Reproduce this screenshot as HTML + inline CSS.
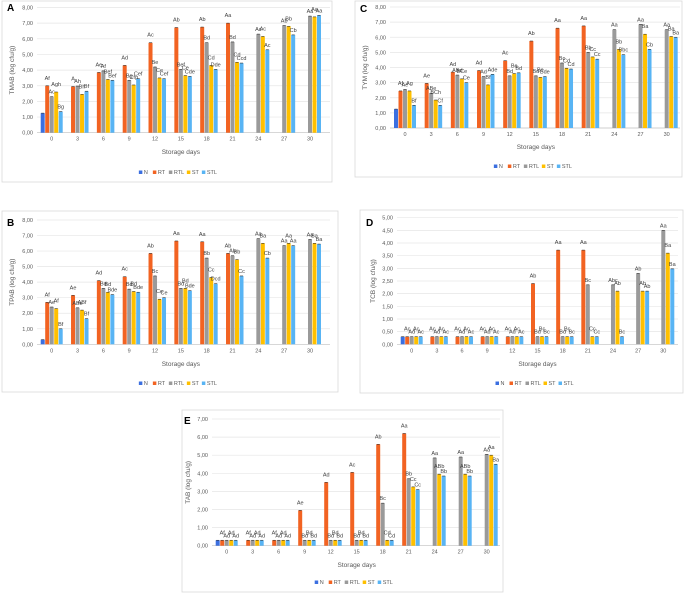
<!DOCTYPE html>
<html><head><meta charset="utf-8">
<style>
body{margin:0;background:#fff;width:685px;height:593px;overflow:hidden;font-family:"Liberation Sans",sans-serif}
svg{position:absolute;left:0;top:0}
</style></head>
<body>
<svg id="fig" width="685" height="593" viewBox="0 0 685 593"></svg>
<script>
const categories=[0,3,6,9,12,15,18,21,24,27,30];
const seriesNames=["N","RT","RTL","ST","STL"];
const colors=["#3b6fe0","#f26322","#9a9a9a","#ffc000","#58b4f4"];
// Panel A TMAB
const aN=[1.25,null,null,null,null,null,null,null,null,null,null];
const aRT=[3.0,2.95,3.85,4.3,5.75,6.72,6.75,7.0,null,null,null];
const aRTL=[2.3,2.98,3.95,3.35,4.2,4.05,5.75,5.8,6.3,6.85,7.45];
const aST=[2.6,2.45,3.4,3.05,3.5,3.65,4.3,4.5,6.15,6.8,7.4];
const aSTL=[1.35,2.65,3.35,3.45,3.45,3.6,4.05,4.45,5.3,6.25,7.5];
const aLab=[["","Af","Ac","Agh","Bg"],["","A","Ah","Bh","Bf"],["","Ae","Af","Bef","Bef"],["","Ad","Bg","Cfg","Cef"],["","Ac","Be","Ce","Cef"],["","Ab","Bef","Ce","Cde"],["","Ab","Bd","Cd","Dde"],["","Aa","Bd","Cd","Ccd"],["","","Ac","Ac","Ac"],["","","Ab","Bb","Cb"],["","","Aa","Aa","Aa"]];
// Panel C TYM
const cN=[1.25,null,null,null,null,null,null,null,null,null,null];
const cRT=[2.45,2.95,3.7,3.8,4.45,5.75,6.6,6.75,null,null,null];
const cRTL=[2.55,2.3,3.5,3.4,3.45,3.45,4.3,5.0,6.5,6.85,6.5];
const cST=[2.45,1.85,3.25,2.85,3.6,3.35,3.95,4.7,5.2,6.2,6.05];
const cSTL=[1.5,1.5,3.0,3.55,3.65,3.4,3.9,4.55,4.85,5.2,6.0];
const cLab=[["","Af","Ae","Ag","Bf"],["","Ae","ABe","BCh","Cf"],["","Ad","ABd","BCe","Ce"],["","Ad","Ad","Bf","Ade"],["","Ac","Bd","Be","Bd"],["","Ab","Bd","Be","Bde"],["","Aa","Bc","Cd","Cd"],["","Aa","Bb","Cc","Cc"],["","","Aa","Bb","Bbc"],["","","Aa","Ba","Cb"],["","","Aa","Ba","Ba"]];
// Panel B TPAB
const bN=[0.3,null,null,null,null,null,null,null,null,null,null];
const bRT=[2.7,3.15,4.1,4.35,5.85,6.65,6.6,5.85,null,null,null];
const bRTL=[2.4,2.35,3.6,3.55,4.4,3.6,5.55,5.7,6.8,6.35,6.75];
const bST=[2.3,2.2,3.35,3.4,2.9,3.6,4.3,5.45,6.5,6.5,6.5];
const bSTL=[1.0,1.65,3.2,3.35,3.0,3.45,3.9,4.4,5.55,6.35,6.45];
const bLab=[["","Af","Ae","Af","Bf"],["","Ae","ABe","ABf","Bf"],["","Ad","Bd","Bd","Bde"],["","Ac","Bd","Bd","Bde"],["","Ab","Bc","Ce","Ce"],["","Aa","Bd","Bd","Bde"],["","Aa","Bb","Cc","Dcd"],["","Ab","Ab","Bb","Cc"],["","","Aa","Ba","Cb"],["","","Aa","Aa","Aa"],["","","Aa","Ba","Ba"]];
// Panel D TCB
const dN=[0.3,null,null,null,null,null,null,null,null,null,null];
const dRT=[0.3,0.3,0.3,0.3,0.3,2.4,3.72,3.72,null,null,null];
const dRTL=[0.3,0.3,0.3,0.3,0.3,0.3,0.3,2.35,2.35,2.8,4.5];
const dST=[0.3,0.3,0.3,0.3,0.3,0.3,0.3,0.3,2.1,2.1,3.6];
const dSTL=[0.3,0.3,0.3,0.3,0.3,0.3,0.3,0.3,0.3,2.1,2.98];
const dLab=[["","Ac","Ad","Ac","Ac"],["","Ac","Ad","Ac","Ac"],["","Ac","Ad","Ac","Ac"],["","Ac","Ad","Ac","Ac"],["","Ac","Ad","Ac","Ac"],["","Ab","Bd","Bc","Bc"],["","Aa","Bd","Bc","Bc"],["","Aa","Bc","Cc","Cc"],["","","Abc","Ab","Bc"],["","","Ab","Ab","Ab"],["","","Aa","Ba","Ba"]];
// Panel E TAB
const eN=[0.3,null,null,null,null,null,null,null,null,null,null];
const eRT=[0.3,0.3,0.3,1.95,3.5,4.05,5.6,6.2,null,null,null];
const eRTL=[0.3,0.3,0.3,0.3,0.3,0.3,2.35,3.7,4.85,4.9,5.05];
const eST=[0.3,0.3,0.3,0.3,0.3,0.3,0.3,3.25,3.95,3.95,5.0];
const eSTL=[0.3,0.3,0.3,0.3,0.3,0.3,0.3,3.1,3.85,3.85,4.5];
const eLab=[["","Af","Ad","Ad","Ad"],["","Af","Ad","Ad","Ad"],["","Af","Ad","Ad","Ad"],["","Ae","Bd","Bd","Bd"],["","Ad","Bd","Bd","Bd"],["","Ac","Bd","Bd","Bd"],["","Ab","Bc","Cd","Cd"],["","Aa","Bb","Cc","Cc"],["","","Aa","ABb","Bb"],["","","Aa","ABb","Bb"],["","","Aa","Aa","Ba"]];

const NS="http://www.w3.org/2000/svg";
const svg=document.getElementById('fig');
function mk(tag,attrs,parent,text){const e=document.createElementNS(NS,tag);for(const k in attrs)e.setAttribute(k,attrs[k]);if(text!==undefined)e.textContent=text;(parent||svg).appendChild(e);return e;}

function panel(p){
  const g=mk('g',{});
  
  
  const fr=mk('rect',{x:p.frame[0],y:p.frame[1],width:p.frame[2],height:p.frame[3],fill:'#fff',stroke:'#d9d9d9','stroke-width':0.8},g);
  
  
  const lt=mk('text',{x:p.lx,y:p.ly,'font-size':10,'font-weight':'bold',fill:'#000'},g,p.letter);
  
  
  const yScale=v=>p.y0-(v/p.ymax)*(p.y0-p.ytop);
  const xScale=i=>p.x0+i*(p.x1-p.x0)/(categories.length-1);
  for(let t=0;t<=p.ymax+1e-9;t+=p.step){
    const y=yScale(t);
    const gl=mk('line',{x1:p.pl,x2:p.pr,y1:y,y2:y,stroke:t===0?'#bfbfbf':'#e6e6e6','stroke-width':0.7},g);
    
    
    const tl=mk('text',{x:p.pl-4,y:y+2,'font-size':5.5,fill:'#595959','text-anchor':'end'},g,t.toFixed(2).replace('.',','));
    
    
  }
  const bw=4,pitch=4.5;
  categories.forEach((c,i)=>{
    const cx=xScale(i);
    const xl=mk('text',{x:cx,y:p.y0+8,'font-size':5.5,fill:'#595959','text-anchor':'middle'},g,String(c));
    
    
    p.series.forEach((arr,s)=>{
      const v=arr[i];if(v===null)return;
      const bx=cx+(s-2)*pitch-bw/2, by=yScale(v);
      const r=mk('rect',{x:bx,y:by,width:bw,height:p.y0-by,fill:colors[s]},g);
      
      
      mk('line',{x1:bx+0.5,x2:bx+bw-0.5,y1:by,y2:by,stroke:'#333','stroke-width':0.6},g);
      const lab=p.labels[i][s];
      if(lab){
        const tx=mk('text',{x:bx+bw/2,y:by-3-(s%2)*3,'font-size':5.5,fill:'#404040','text-anchor':'middle'},g,lab);
        
        
      }
    });
  });
  const xt=mk('text',{x:(p.x0+p.x1)/2,y:p.ty,'font-size':6.5,fill:'#595959','text-anchor':'middle'},g,'Storage days');
  
  
  const ymid=(p.y0+p.ytop)/2;
  const yt=mk('text',{x:p.ytx,y:ymid,'font-size':6.5,fill:'#595959','text-anchor':'middle',transform:`rotate(-90 ${p.ytx} ${ymid})`},g,p.ytitle);
  
  
  let lx=(p.x0+p.x1)/2-42;
  const lw=[14,16,18,15,18];
  seriesNames.forEach((n,s)=>{
    const le=mk('g',{},g);
    
    
    mk('rect',{x:lx,y:p.legy-3.5,width:3.5,height:3.5,fill:colors[s]},le);
    mk('text',{x:lx+5,y:p.legy,'font-size':5.5,fill:'#595959'},le,n);
    lx+=lw[s];
  });
}
panel({letter:'A',frame:[2,1,330,181],lx:7,ly:11,x0:51.7,x1:310,pl:37,pr:330,y0:132.7,ytop:7.5,ymax:8,step:1,ty:154,ytx:14,ytitle:'TMAB (log cfu/g)',legy:174,series:[aN,aRT,aRTL,aST,aSTL],labels:aLab});
panel({letter:'C',frame:[355,1,327,176],lx:360,ly:12,x0:405,x1:666.7,pl:390,pr:680,y0:128,ytop:7,ymax:8,step:1,ty:149,ytx:367,ytitle:'TYM (log cfu/g)',legy:168,series:[cN,cRT,cRTL,cST,cSTL],labels:cLab});
panel({letter:'B',frame:[2,211,336,181],lx:7,ly:226,x0:51.7,x1:310,pl:37,pr:330,y0:344.3,ytop:220,ymax:8,step:1,ty:366,ytx:14,ytitle:'TPAB (log cfu/g)',legy:385,series:[bN,bRT,bRTL,bST,bSTL],labels:bLab});
panel({letter:'D',frame:[360,210,323,183],lx:366,ly:226,x0:411.7,x1:663.3,pl:397,pr:678,y0:344.3,ytop:217.7,ymax:5,step:0.5,ty:366,ytx:375,ytitle:'TCB (log cfu/g)',legy:385,series:[dN,dRT,dRTL,dST,dSTL],labels:dLab});
panel({letter:'E',frame:[182,410,321,182],lx:184,ly:424,x0:226.7,x1:486.7,pl:212,pr:500,y0:545.7,ytop:419,ymax:7,step:1,ty:567,ytx:190,ytitle:'TAB (log cfu/g)',legy:584,series:[eN,eRT,eRTL,eST,eSTL],labels:eLab});
</script>
</body></html>
